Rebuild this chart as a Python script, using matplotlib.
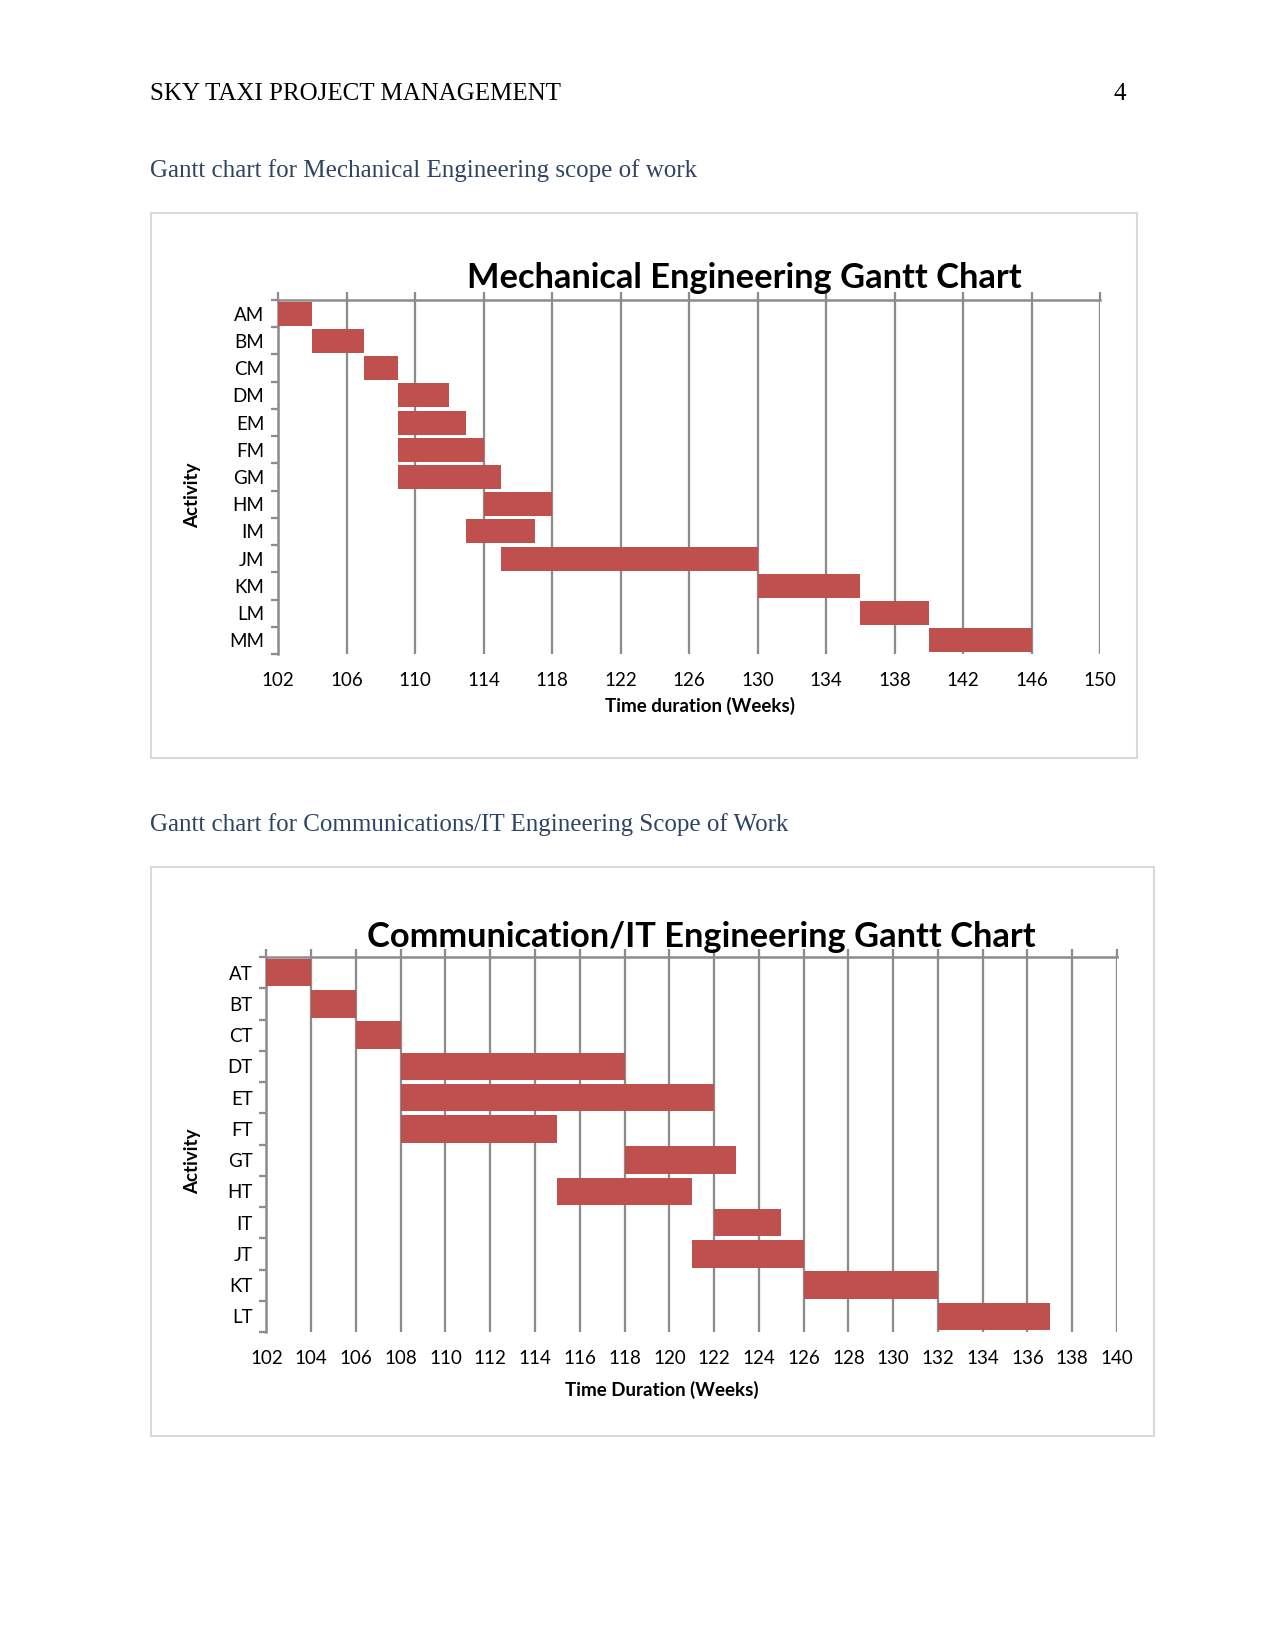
import numpy as np
import matplotlib.pyplot as plt
from matplotlib.patches import Rectangle

# data (weeks)
mech_tasks = ['AM', 'BM', 'CM', 'DM', 'EM', 'FM', 'GM', 'HM', 'IM', 'JM', 'KM', 'LM', 'MM']
mech_start = [102, 104, 107, 109, 109, 109, 109, 114, 113, 115, 130, 136, 140]
mech_end = [104, 107, 109, 112, 113, 114, 115, 118, 117, 130, 136, 140, 146]

comm_tasks = ['AT', 'BT', 'CT', 'DT', 'ET', 'FT', 'GT', 'HT', 'IT', 'JT', 'KT', 'LT']
comm_start = [102, 104, 106, 108, 108, 108, 118, 115, 122, 121, 126, 132]
comm_end = [104, 106, 108, 118, 122, 115, 123, 121, 125, 126, 132, 137]

W, H = 1275, 1651
BAR = '#C0504D'
GRID = '#8c8c8c'
CHART_FONT = ['Lato', 'DejaVu Sans']
SERIF = ['Liberation Serif', 'DejaVu Serif']

fig = plt.figure(figsize=(W / 150, H / 150), dpi=150)


def fx(x):
    return x / W


def fy(y):
    return 1 - y / H


def gantt(box, ax_box, tasks, start, end, xmin, xmax, step, title, xlabel, title_xy, xlabel_xy, act_xy):
    # light frame around the chart
    x0, y0, x1, y1 = box
    fig.patches.append(Rectangle((fx(x0), fy(y1)), fx(x1) - fx(x0), fy(y0) - fy(y1),
                                 transform=fig.transFigure, fill=False,
                                 edgecolor='#d9d9d9', lw=1))
    l, t, r, b = ax_box
    ax = fig.add_axes([fx(l), fy(b), fx(r) - fx(l), fy(t) - fy(b)])
    pos = np.arange(len(tasks))
    widths = np.array(end) - np.array(start)
    ax.barh(pos, widths, left=start, height=0.88, color=BAR, zorder=3)

    ax.set_xlim(xmin, xmax)
    ax.set_ylim(len(tasks) - 0.5, -0.5)
    ax.set_xticks(np.arange(xmin, xmax + 1, step))
    ax.grid(axis='x', color=GRID, lw=1.1, zorder=0)
    ax.set_yticks(pos)
    ax.set_yticklabels(tasks)
    ax.set_yticks(np.arange(-0.5, len(tasks), 1), minor=True)

    for s in ['bottom', 'right']:
        ax.spines[s].set_visible(False)
    for s in ['top', 'left']:
        ax.spines[s].set_color(GRID)
        ax.spines[s].set_linewidth(1.2)

    ax.tick_params(axis='x', top=True, bottom=False, labelbottom=True, labeltop=False,
                   direction='out', length=4, color=GRID, width=1.1, pad=4.5,
                   labelsize=9)
    ax.tick_params(axis='y', which='major', length=0, pad=6.5, labelsize=9)
    ax.tick_params(axis='y', which='minor', length=3.5, color=GRID, width=1.1)
    for lab in ax.get_xticklabels() + ax.get_yticklabels():
        lab.set_family(CHART_FONT)

    fig.text(fx(title_xy[0]), fy(title_xy[1]), title, family=CHART_FONT,
             fontsize=16.5, fontweight='bold', ha='center', va='center')
    fig.text(fx(xlabel_xy[0]), fy(xlabel_xy[1]), xlabel, family=CHART_FONT,
             fontsize=9, fontweight='bold', ha='center', va='center')
    fig.text(fx(act_xy[0]), fy(act_xy[1]), 'Activity', family=CHART_FONT,
             fontsize=9, fontweight='bold', ha='center', va='center', rotation=90)
    return ax


# page header
fig.text(fx(150), fy(93.5), 'SKY TAXI PROJECT MANAGEMENT', family=SERIF,
         fontsize=12, ha='left', va='center')
fig.text(fx(1126), fy(93.5), '4', family=SERIF, fontsize=12, ha='right', va='center')

fig.text(fx(150), fy(170.5), 'Gantt chart for Mechanical Engineering scope of work',
         family=SERIF, fontsize=12, color='#2F4462', ha='left', va='center')
fig.text(fx(150), fy(824.5), 'Gantt chart for Communications/IT Engineering Scope of Work',
         family=SERIF, fontsize=12, color='#2F4462', ha='left', va='center')

gantt((150.5, 212.7, 1137, 758), (278, 300, 1100, 654),
      mech_tasks, mech_start, mech_end, 102, 150, 4,
      'Mechanical Engineering Gantt Chart', 'Time duration (Weeks)',
      (744, 278), (700, 706), (193, 495))

gantt((150.5, 866.5, 1154, 1436), (266.4, 957, 1117, 1332),
      comm_tasks, comm_start, comm_end, 102, 140, 2,
      'Communication/IT Engineering Gantt Chart', 'Time Duration (Weeks)',
      (701, 937), (662, 1390), (193, 1161))

plt.savefig('out.png', dpi=150)
